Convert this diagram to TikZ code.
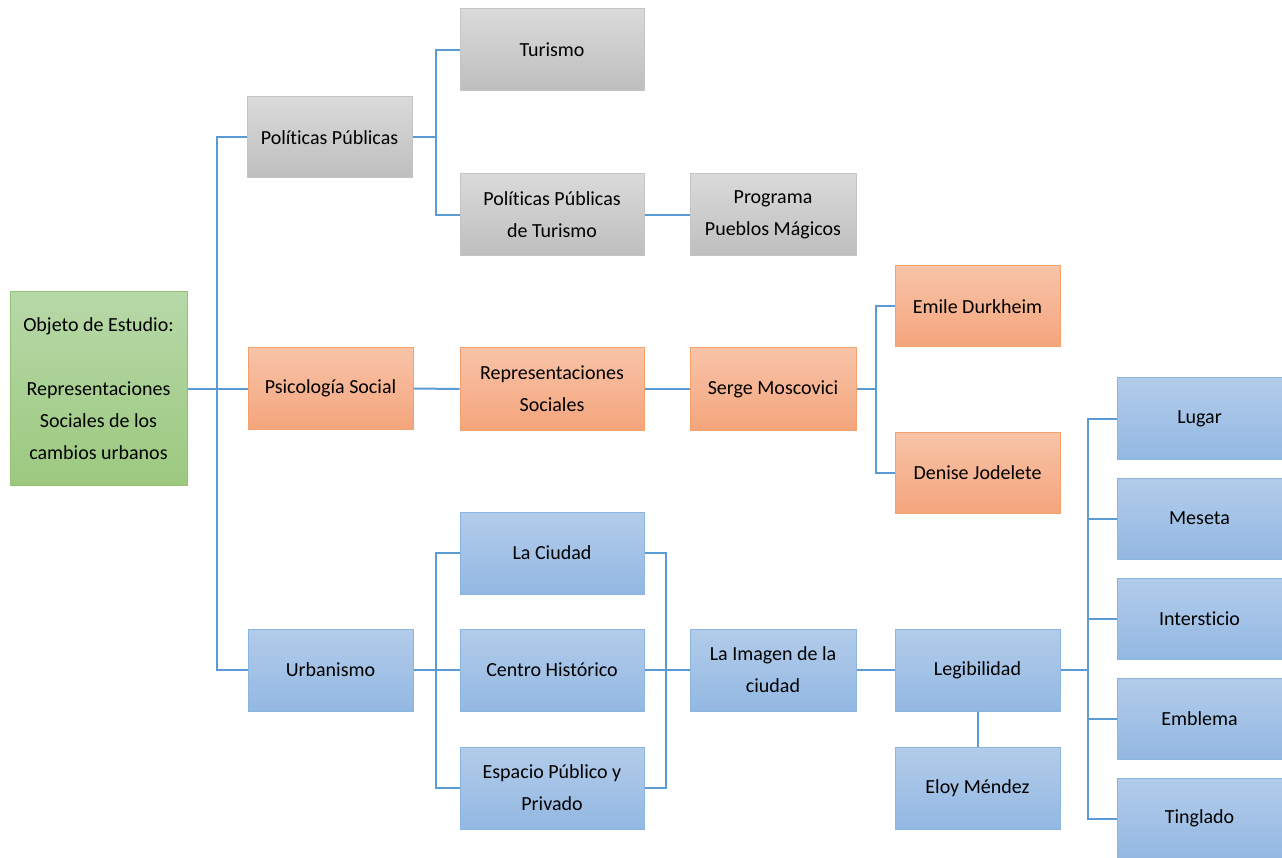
\documentclass[tikz,border=0pt]{standalone}
\usepackage{fontspec}
\setmainfont[RawFeature={-liga;-clig;-calt;-dlig}]{Carlito}
\definecolor{lineblue}{HTML}{5B9BD5}
\definecolor{gtop}{HTML}{B7D8A8}
\definecolor{gbot}{HTML}{9CC97F}
\definecolor{gbrd}{HTML}{92C274}
\definecolor{ytop}{HTML}{DADADA}
\definecolor{ybot}{HTML}{BEBEBE}
\definecolor{ybrd}{HTML}{C4C4C4}
\definecolor{otop}{HTML}{F8C3A8}
\definecolor{obot}{HTML}{F4A57C}
\definecolor{obrd}{HTML}{F2A06C}
\definecolor{btop}{HTML}{B2CCEA}
\definecolor{bbot}{HTML}{93B8E2}
\definecolor{bbrd}{HTML}{8AB4E2}
\tikzset{
  box/.style={rectangle, inner sep=0pt, align=center, line width=1pt,
    font=\fontsize{20}{32}\selectfont, text=black},
  greenbox/.style={box, draw=gbrd, top color=gtop, bottom color=gbot},
  graybox/.style={box, draw=ybrd, top color=ytop, bottom color=ybot},
  orangebox/.style={box, draw=obrd, top color=otop, bottom color=obot},
  bluebox/.style={box, draw=bbrd, top color=btop, bottom color=bbot},
  conn/.style={draw=lineblue, line width=2pt}
}
\begin{document}
\begin{tikzpicture}[x=1pt,y=-1pt]
\useasboundingbox (0,0) rectangle (1282,858);
% nodes
\node[greenbox, minimum width=177, minimum height=193] (obj) at (98.5,388.5)
  {Objeto de Estudio:\\[32pt]Representaciones\\Sociales de los\\cambios urbanos};
\node[graybox, minimum width=165, minimum height=81] (pp) at (329.5,137.5) {Políticas Públicas};
\node[graybox, minimum width=184, minimum height=82] (tur) at (552,50) {Turismo};
\node[graybox, minimum width=184, minimum height=82] (ppt) at (552,215) {Políticas Públicas\\de Turismo};
\node[graybox, minimum width=166, minimum height=82] (prog) at (773,215) {Programa\\Pueblos Mágicos};
\node[orangebox, minimum width=165, minimum height=81] (ps) at (330.5,388.5) {Psicología Social};
\node[orangebox, minimum width=184, minimum height=82] (rs) at (552,389) {Representaciones\\Sociales};
\node[orangebox, minimum width=166, minimum height=82] (sm) at (773,389) {Serge Moscovici};
\node[orangebox, minimum width=165, minimum height=81] (ed) at (977.5,306.5) {Emile Durkheim};
\node[orangebox, minimum width=165, minimum height=81] (dj) at (977.5,472.5) {Denise Jodelete};
\node[bluebox, minimum width=165, minimum height=82] (urb) at (330.5,670) {Urbanismo};
\node[bluebox, minimum width=184, minimum height=82] (lc) at (552,553) {La Ciudad};
\node[bluebox, minimum width=184, minimum height=82] (ch) at (552,670) {Centro Histórico};
\node[bluebox, minimum width=184, minimum height=82] (ep) at (552,788) {Espacio Público y\\Privado};
\node[bluebox, minimum width=166, minimum height=82] (im) at (773,670) {La Imagen de la\\ciudad};
\node[bluebox, minimum width=165, minimum height=82] (leg) at (977.5,670) {Legibilidad};
\node[bluebox, minimum width=165, minimum height=82] (eloy) at (977.5,788) {Eloy Méndez};
\node[bluebox, minimum width=165, minimum height=81] (lug) at (1199.5,418.5) {Lugar};
\node[bluebox, minimum width=165, minimum height=81] (mes) at (1199.5,518.5) {Meseta};
\node[bluebox, minimum width=165, minimum height=81] (int) at (1199.5,618.5) {Intersticio};
\node[bluebox, minimum width=165, minimum height=81] (emb) at (1199.5,718.5) {Emblema};
\node[bluebox, minimum width=165, minimum height=81] (tin) at (1199.5,818.5) {Tinglado};
% connectors
\draw[conn] (obj.east) -- (ps.west);
\coordinate (t1) at (217,388.5);
\draw[conn] (pp.west) -| (t1) |- (urb.west);
\coordinate (t2) at (436,137.5);
\draw[conn] (tur.west) -| (t2) |- (ppt.west);
\draw[conn] (pp.east) -- (t2);
\draw[conn] (ppt.east) -- (prog.west);
\draw[conn] (ps.east) -- (rs.west);
\draw[conn] (rs.east) -- (sm.west);
\coordinate (t3) at (876,389);
\draw[conn] (ed.west) -| (t3) |- (dj.west);
\draw[conn] (sm.east) -- (t3);
\coordinate (t4) at (436,670);
\draw[conn] (lc.west) -| (t4) |- (ep.west);
\draw[conn] (urb.east) -- (ch.west);
\coordinate (t5) at (666,670);
\draw[conn] (lc.east) -| (t5) |- (ep.east);
\draw[conn] (ch.east) -- (im.west);
\draw[conn] (im.east) -- (leg.west);
\draw[conn] (leg.south) -- (eloy.north);
\coordinate (t6) at (1088,670);
\draw[conn] (lug.west) -| (t6) |- (tin.west);
\draw[conn] (leg.east) -- (t6);
\draw[conn] (mes.west) -| (t6);
\draw[conn] (int.west) -| (t6);
\draw[conn] (emb.west) -| (t6);
\end{tikzpicture}
\end{document}
